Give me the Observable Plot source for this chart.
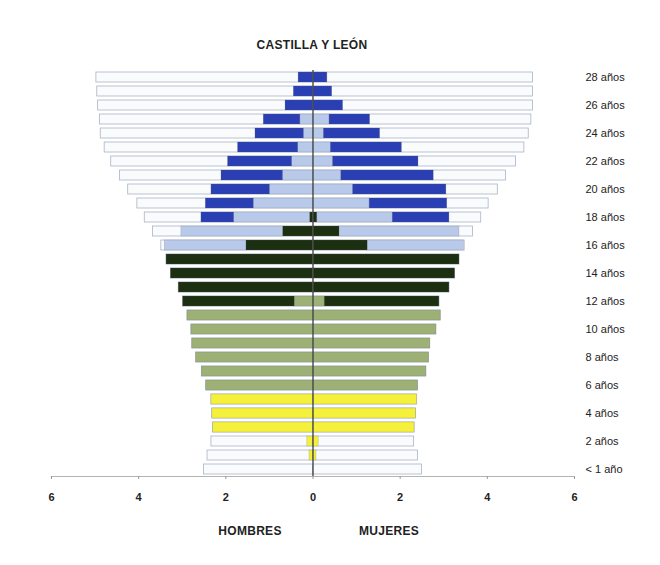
<!DOCTYPE html>
<html>
<head>
<meta charset="utf-8">
<script src="https://cdn.jsdelivr.net/npm/d3@7"></script>
<script src="https://cdn.jsdelivr.net/npm/@observablehq/plot@0.6"></script>
<style>
  body { margin: 0; background: #fff; font-family: "Liberation Sans", Arial, sans-serif; }
  #wrap { width: 660px; height: 565px; position: relative; }
  #title { position: absolute; left: 0; width: 624px; top: 38px; text-align: center;
           font-weight: bold; font-size: 12px; letter-spacing: 0.3px; color: #222; }
  #chart { position: absolute; left: 0; top: 60px; }
  .sexlab { position: absolute; top: 524px; font-weight: bold; font-size: 12px; color: #222;
            letter-spacing: 0.3px; transform: translateX(-50%); }
</style>
</head>
<body>
<div id="wrap">
  <div id="title">CASTILLA Y LEÓN</div>
  <div id="chart"></div>
  <div class="sexlab" style="left:250px">HOMBRES</div>
  <div class="sexlab" style="left:389px">MUJERES</div>
</div>
<script>
// Ages 0..28 (row index = age)
const ages = d3.range(0, 29);
const ageLabels = ["< 1 año","1 año","2 años","3 años","4 años","5 años","6 años","7 años","8 años","9 años",
  "10 años","11 años","12 años","13 años","14 años","15 años","16 años","17 años","18 años","19 años",
  "20 años","21 años","22 años","23 años","24 años","25 años","26 años","27 años","28 años"];
const labelledAges = [0,2,4,6,8,10,12,14,16,18,20,22,24,26,28];
const xTicks = [-6,-4,-2,0,2,4,6];

// Total population (%) by age
const totalHombres = [2.50,2.42,2.33,2.29,2.31,2.33,2.45,2.55,2.68,2.77,2.79,2.88,2.98,3.08,3.26,3.36,3.48,3.67,3.86,4.03,4.24,4.43,4.63,4.78,4.87,4.89,4.93,4.95,4.97];
const totalMujeres = [2.50,2.41,2.32,2.33,2.36,2.39,2.41,2.60,2.66,2.69,2.83,2.93,2.90,3.13,3.26,3.36,3.48,3.67,3.86,4.03,4.24,4.43,4.66,4.85,4.95,5.01,5.05,5.05,5.05];

// Enrolled by level (%), by age
const levels = ["Infantil","Primaria","ESO","Bachillerato/FP","Universidad"];
const levelColors = ["#f5f03c","#9db076","#1c2f10","#b8c9ea","#2a3fb3"];

const infantilH = [0,0.08,0.13,2.29,2.31,2.33,0,0,0,0,0,0,0,0,0,0,0,0,0,0,0,0,0,0,0,0,0,0,0];
const infantilM = [0,0.08,0.13,2.33,2.36,2.39,0,0,0,0,0,0,0,0,0,0,0,0,0,0,0,0,0,0,0,0,0,0,0];
const primariaH = [0,0,0,0,0,0,2.45,2.55,2.68,2.77,2.79,2.88,0.42,0,0,0,0,0,0,0,0,0,0,0,0,0,0,0,0];
const primariaM = [0,0,0,0,0,0,2.41,2.60,2.66,2.69,2.83,2.93,0.27,0,0,0,0,0,0,0,0,0,0,0,0,0,0,0,0];
const esoH = [0,0,0,0,0,0,0,0,0,0,0,0,2.56,3.08,3.26,3.36,1.53,0.69,0.07,0,0,0,0,0,0,0,0,0,0];
const esoM = [0,0,0,0,0,0,0,0,0,0,0,0,2.63,3.13,3.26,3.36,1.26,0.61,0.10,0,0,0,0,0,0,0,0,0,0];
const bachH = [0,0,0,0,0,0,0,0,0,0,0,0,0,0,0,0,1.87,2.33,1.74,1.36,0.99,0.69,0.48,0.34,0.21,0.29,0,0,0];
const bachM = [0,0,0,0,0,0,0,0,0,0,0,0,0,0,0,0,2.20,2.75,1.73,1.30,0.92,0.65,0.46,0.41,0.25,0.38,0,0,0];
const univH = [0,0,0,0,0,0,0,0,0,0,0,0,0,0,0,0,0,0,0.75,1.10,1.34,1.41,1.47,1.38,1.11,0.84,0.63,0.44,0.33];
const univM = [0,0,0,0,0,0,0,0,0,0,0,0,0,0,0,0,0,0,1.30,1.78,2.14,2.12,1.96,1.63,1.29,0.93,0.69,0.44,0.33];

// Build tables
const totals = [];
ages.forEach(a => {
  totals.push({age: a, v: -totalHombres[a]});
  totals.push({age: a, v: totalMujeres[a]});
});
const seriesH = [infantilH, primariaH, esoH, bachH, univH];
const seriesM = [infantilM, primariaM, esoM, bachM, univM];
const segs = [];
levels.forEach((lev, i) => {
  ages.forEach(a => {
    if (seriesH[i][a] > 0) segs.push({age: a, level: lev, v: -seriesH[i][a]});
    if (seriesM[i][a] > 0) segs.push({age: a, level: lev, v: seriesM[i][a]});
  });
});

const plot = Plot.plot({
  width: 660,
  height: 446,
  marginLeft: 51,
  marginRight: 86,
  marginTop: 10,
  marginBottom: 30,
  style: {fontFamily: "'Liberation Sans', Arial, sans-serif", background: "transparent"},
  x: {domain: [-6, 6]},
  y: {type: "band", domain: ages.slice().reverse(), paddingInner: 0.28, paddingOuter: 0.14},
  color: {domain: levels, range: levelColors},
  marks: [
    Plot.frame({anchor: "bottom", stroke: "#b4b4b4", strokeWidth: 1}),
    Plot.barX(totals, {x: "v", y: "age", fill: "#fafbfd", stroke: "#a9b3c6", strokeWidth: 0.8}),
    Plot.barX(segs, {x: "v", y: "age", fill: "level", z: "level", stroke: "#5c6470", strokeOpacity: 0.35, strokeWidth: 0.6}),
    Plot.ruleX([0], {stroke: "#4a4a4a", strokeWidth: 1.4}),
    Plot.axisX({ticks: xTicks, tickFormat: d => Math.abs(d), tickSize: 3, tickPadding: 14,
                stroke: "#999", color: "#222", fontSize: 11, fontWeight: "bold", label: null}),
    Plot.axisY({anchor: "right", ticks: labelledAges, tickFormat: d => ageLabels[d], tickSize: 0,
                tickPadding: 11, fontSize: 11, color: "#222", label: null})
  ]
});
document.getElementById("chart").appendChild(plot);
</script>
</body>
</html>
